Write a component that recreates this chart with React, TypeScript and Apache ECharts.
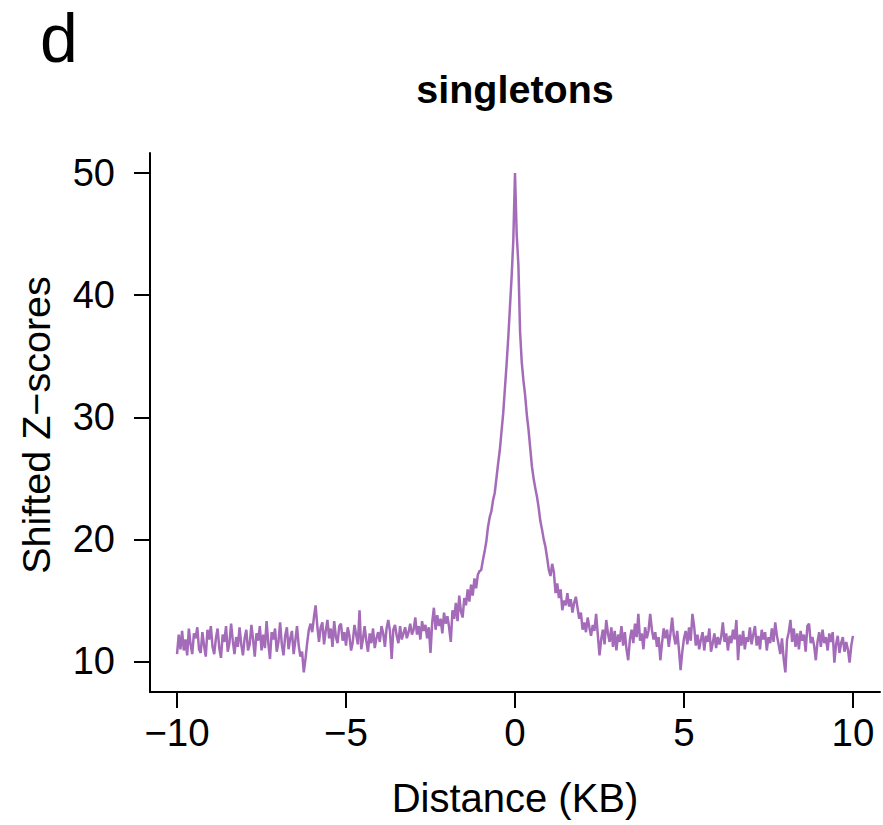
import React, { useEffect, useRef } from "react";
import * as echarts from "echarts";

// Distance grid (KB): -10 to 10 in steps of 0.05
const START_KB = -10;
const STEP_KB = 0.05;

// Shifted Z-scores, 20 values per KB
const zLeft: number[] = [
  // -10.00 .. -9.05
  10.6, 12.2, 11.0, 12.5, 10.9, 11.8, 10.5, 12.7, 11.4, 10.6, 12.3, 11.9, 12.8, 11.0, 10.7, 12.4, 11.3, 10.4, 12.6, 11.8,
  // -9.00 .. -8.05
  12.9, 11.2, 10.6, 11.9, 12.7, 11.1, 10.3, 12.2, 11.6, 12.9, 10.8, 11.5, 13.1, 11.7, 10.6, 12.0, 11.2, 12.8, 11.4, 10.5,
  // -8.00 .. -7.05
  11.9, 12.6, 10.9, 11.4, 13.0, 11.8, 10.4, 12.3, 11.7, 12.9, 10.9, 12.2, 11.1, 13.3, 11.5, 10.2, 12.4, 11.8, 12.7, 10.8,
  // -7.00 .. -6.05
  11.6, 13.2, 11.4, 10.5, 12.1, 12.8, 11.0, 11.9, 12.5, 10.6, 11.7, 12.9, 11.3, 10.4, 10.8, 9.1, 10.2, 11.5, 12.6, 13.1,
  // -6.00 .. -5.05
  12.4, 13.6, 14.6, 12.9, 11.6, 12.8, 13.2, 11.4, 12.5, 13.4, 11.9, 12.7, 11.2, 13.3, 12.0, 11.5, 12.9, 13.1, 11.7, 12.4,
  // -5.00 .. -4.05
  11.3, 12.8, 12.1, 10.9, 11.6, 13.0, 12.2, 11.4, 14.2, 11.0, 11.8, 12.9, 11.7, 10.8, 12.3, 11.5, 12.7, 11.1, 11.9, 12.4,
  // -4.00 .. -3.05
  11.6, 12.9, 12.3, 11.2, 12.7, 13.4, 12.5, 10.2, 12.6, 13.0, 12.1, 11.5, 12.9, 11.8, 12.3, 12.8, 11.9, 12.4, 13.1, 12.2,
  // -3.00 .. -2.05
  12.6, 13.6, 12.2, 12.9, 11.8, 13.3, 12.5, 13.0, 11.9, 12.8, 10.7, 13.2, 14.4, 12.6, 13.8, 12.9, 13.5, 12.3, 14.0, 13.1,
  // -2.00 .. -1.05
  13.7, 12.8, 11.6, 14.2, 13.5, 14.8, 13.3, 15.4, 14.1, 13.6, 15.2, 14.6, 15.9, 14.9, 16.3, 15.4, 16.8, 16.0, 17.1, 17.4,
  // -1.00 .. -0.05
  17.5, 18.3, 19.0, 19.8, 21.0, 21.8, 22.3, 23.2, 23.8, 25.0, 26.2, 27.3, 28.8, 30.3, 32.3, 34.3, 36.5, 39.0, 41.5, 44.5,
];
const zCenter: number[] = [50.0];
const zRight: number[] = [
  // 0.05 .. 1.00
  45.0, 42.5, 37.0, 34.5, 33.0, 31.8, 30.2, 29.0, 27.5, 26.0, 25.0, 24.2, 23.5, 22.6, 21.5, 20.8, 20.0, 19.4, 18.5, 17.5,
  // 1.05 .. 2.00
  17.0, 18.0, 17.3, 15.6, 16.4, 15.2, 15.9, 14.2, 15.0, 14.6, 15.6, 14.5, 15.1, 14.0, 14.8, 15.3, 14.4, 13.5, 14.0, 12.6,
  // 2.05 .. 3.00
  13.2, 12.4, 13.6, 12.8, 12.1, 13.0, 12.5, 13.9, 12.2, 10.5, 11.8, 12.6, 11.4, 13.4, 12.3, 11.6, 12.8, 11.2, 12.5, 10.9,
  // 3.05 .. 4.00
  12.2, 11.6, 12.9, 11.3, 12.4, 11.0, 10.1, 11.8, 12.6, 11.5, 13.1, 12.0, 13.9, 11.7, 12.3, 11.0, 12.8, 11.9, 12.5, 13.9,
  // 4.05 .. 5.00
  12.6, 11.8, 12.4, 11.2, 12.0, 10.1, 11.5, 12.7, 11.9, 12.6, 11.2, 12.3, 13.6, 12.1, 11.4, 12.5, 11.0, 9.3, 10.8, 11.9,
  // 5.05 .. 6.00
  12.5, 11.4, 12.8, 11.7, 13.9, 12.9, 11.3, 12.2, 11.0, 11.8, 12.4, 10.9, 12.1, 11.6, 12.7, 10.8, 11.5, 12.3, 11.1, 12.0,
  // 6.05 .. 7.00
  11.4, 12.0, 13.2, 11.6, 12.3, 10.9, 12.1, 11.5, 12.6, 11.8, 13.4, 10.1, 12.2, 11.3, 12.5, 11.0, 12.0, 11.6, 12.8, 11.4,
  // 7.05 .. 8.00
  12.2, 12.9, 11.3, 12.1, 11.0, 12.6, 11.8, 12.4, 10.9, 12.0, 11.5, 12.7, 11.6, 13.2, 12.1, 11.4, 10.6, 11.9, 10.2, 9.1,
  // 8.05 .. 9.00
  11.8, 12.4, 13.4, 11.6, 12.7, 11.2, 12.3, 11.0, 12.5, 11.7, 12.2, 10.8, 12.9, 13.1, 11.5, 12.0, 11.3, 10.1, 11.6, 12.4,
  // 9.05 .. 10.00
  11.2, 12.6, 11.5, 12.0, 10.9, 12.3, 11.6, 12.4, 9.9, 11.4, 12.1, 10.7, 11.5, 12.0, 10.8, 11.6, 11.0, 9.9, 11.3, 12.1,
];

const xTicks: number[] = [-10, -5, 0, 5, 10];
const yTicks: number[] = [10, 20, 30, 40, 50];

const panelLabel = "d";
const titleText = "singletons";
const xTitle = "Distance (KB)";
const yTitle = "Shifted Z\u2212scores";

const FONT = '"Liberation Sans", Arial, Helvetica, sans-serif';
const LINE_COLOR = "#a46bb9";

export default function App() {
  const ref = useRef<HTMLDivElement>(null);

  useEffect(() => {
    document.body.style.margin = "0";
    if (!ref.current) return;
    const chart = echarts.init(ref.current, null, { renderer: "svg" });

    const values = [...zLeft, ...zCenter, ...zRight];
    const data = values.map((v, i) => [
      Math.round((START_KB + i * STEP_KB) * 100) / 100,
      v,
    ]);

    const fmt = (v: number) => String(v).replace("-", "\u2212");

    chart.setOption({
      animation: false,
      backgroundColor: "#ffffff",
      grid: { left: 150, right: 3, top: 153, bottom: 133, containLabel: false },
      xAxis: {
        type: "value",
        min: -10.8,
        max: 10.8,
        splitLine: { show: false },
        axisLine: { show: true, onZero: false, lineStyle: { color: "#000", width: 2 } },
        axisTick: {
          show: true,
          inside: false,
          length: 16,
          customValues: xTicks,
          lineStyle: { color: "#000", width: 2 },
        },
        axisLabel: {
          show: true,
          customValues: xTicks,
          formatter: fmt,
          margin: 21,
          fontSize: 38.5,
          color: "#000",
          fontFamily: FONT,
        },
      },
      yAxis: {
        type: "value",
        min: 7.5,
        max: 51.65,
        splitLine: { show: false },
        axisLine: { show: true, onZero: false, lineStyle: { color: "#000", width: 2 } },
        axisTick: {
          show: true,
          inside: false,
          length: 16,
          customValues: yTicks,
          lineStyle: { color: "#000", width: 2 },
        },
        axisLabel: {
          show: true,
          customValues: yTicks,
          formatter: fmt,
          margin: 35,
          fontSize: 38,
          color: "#000",
          fontFamily: FONT,
        },
      },
      series: [
        {
          type: "line",
          data,
          showSymbol: false,
          symbol: "none",
          lineStyle: { color: LINE_COLOR, width: 2.5 },
          z: 3,
        },
      ],
      graphic: [
        {
          type: "text",
          left: 40,
          top: 4,
          style: { text: panelLabel, fontSize: 68, fontFamily: FONT, fill: "#000" },
        },
        {
          type: "text",
          x: 515,
          y: 89,
          style: {
            text: titleText,
            fontSize: 39.5,
            fontWeight: "bold",
            fontFamily: FONT,
            fill: "#000",
            align: "center",
            verticalAlign: "middle",
          },
        },
        {
          type: "text",
          x: 515,
          y: 798,
          style: {
            text: xTitle,
            fontSize: 40,
            fontFamily: FONT,
            fill: "#000",
            align: "center",
            verticalAlign: "middle",
          },
        },
        {
          type: "text",
          x: 36,
          y: 425,
          rotation: Math.PI / 2,
          style: {
            text: yTitle,
            fontSize: 39.5,
            fontFamily: FONT,
            fill: "#000",
            align: "center",
            verticalAlign: "middle",
          },
        },
      ],
    });

    return () => chart.dispose();
  }, []);

  return <div ref={ref} style={{ width: 883, height: 825 }} />;
}
